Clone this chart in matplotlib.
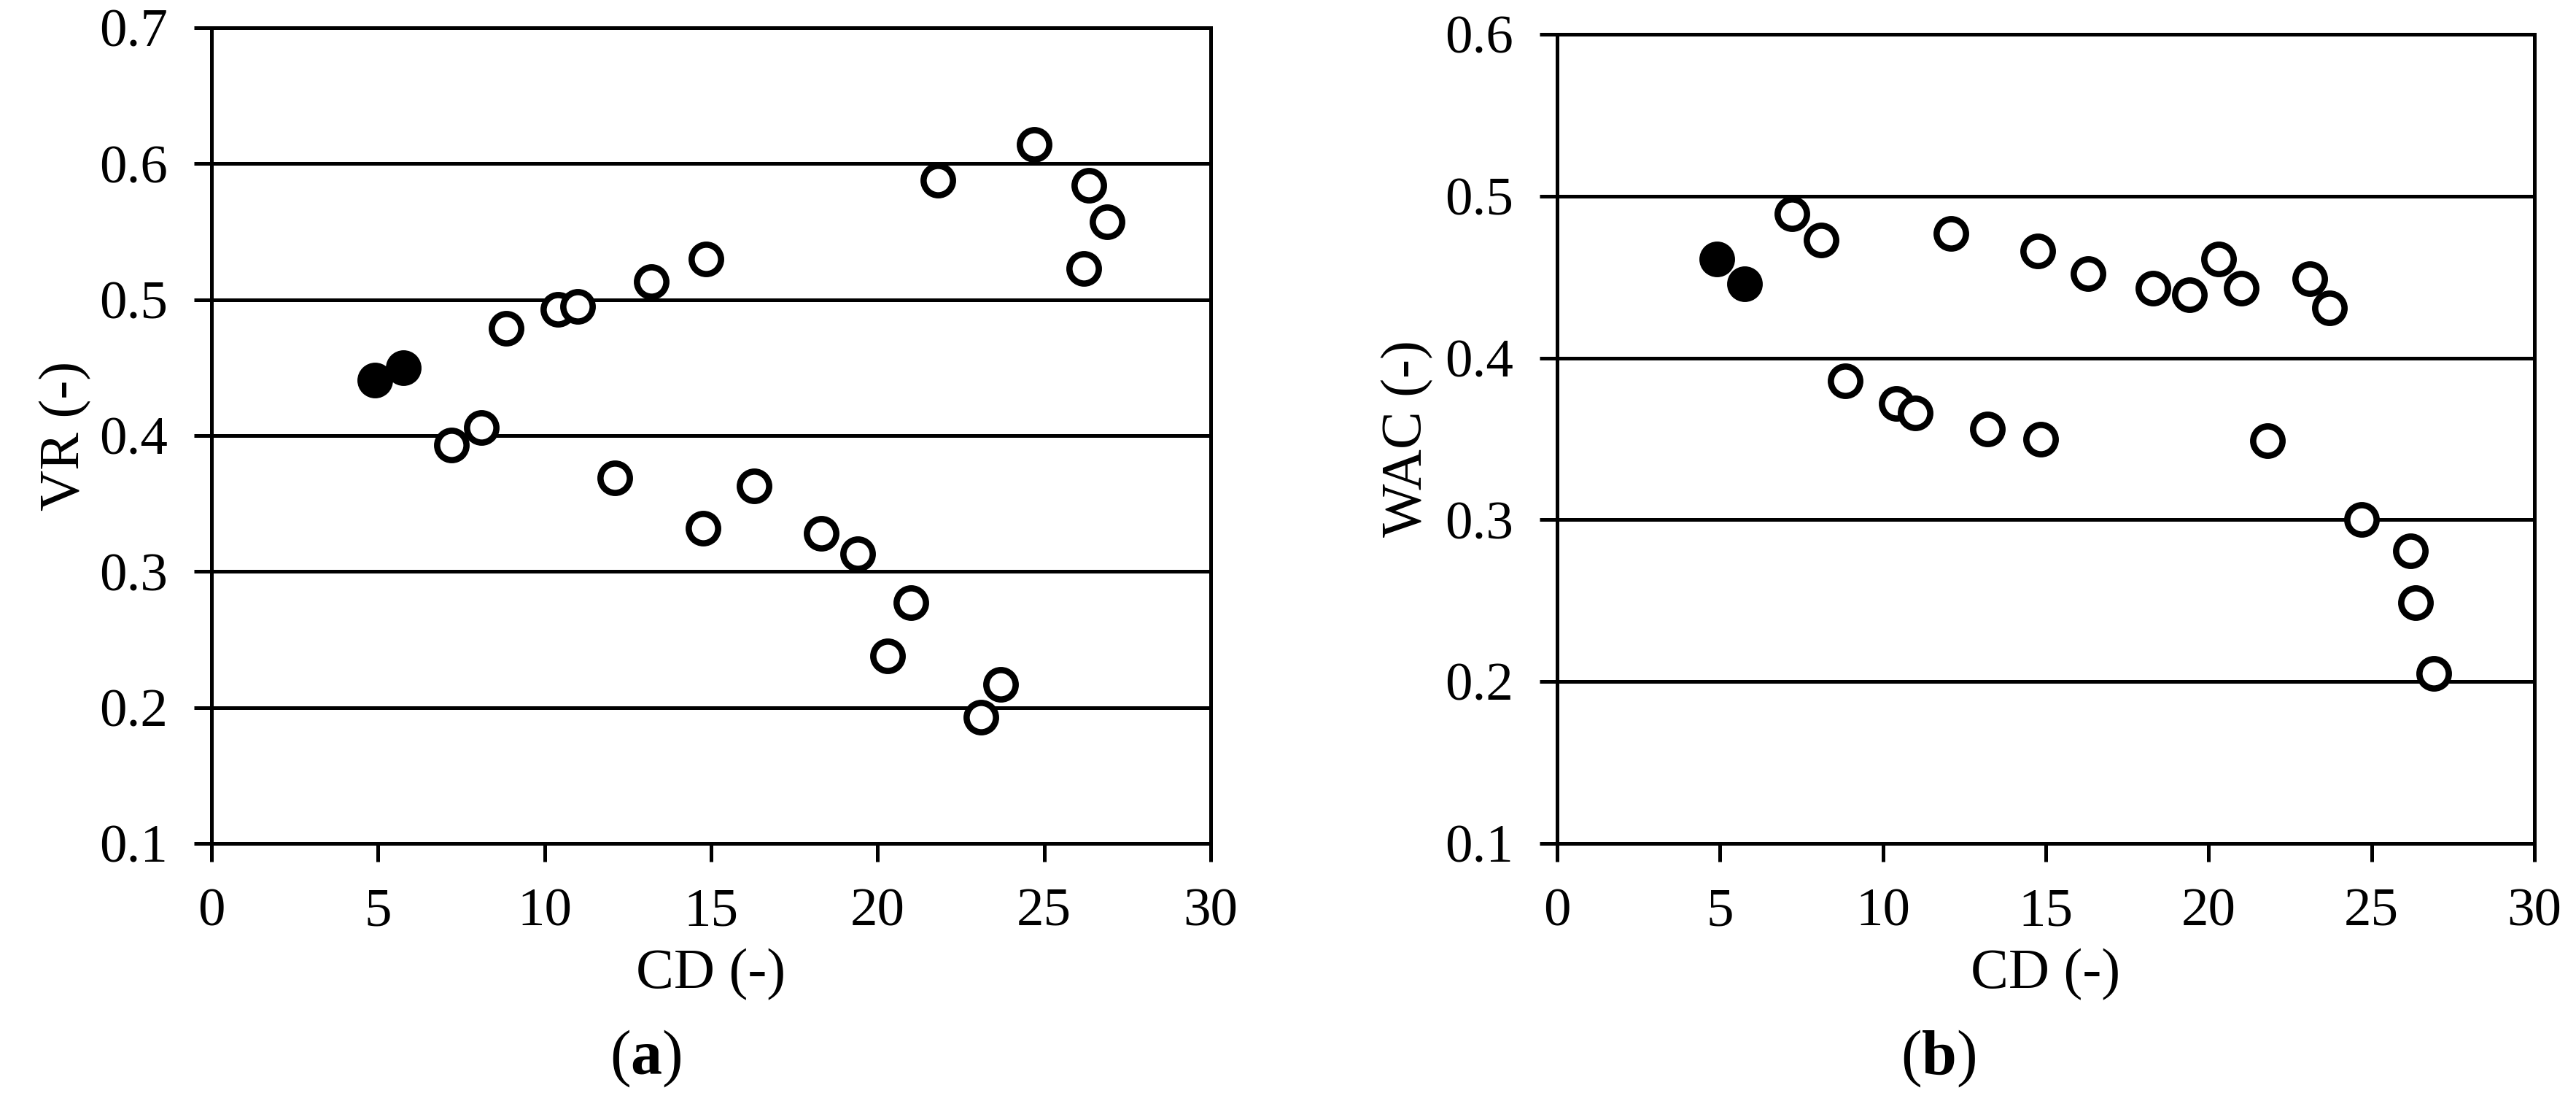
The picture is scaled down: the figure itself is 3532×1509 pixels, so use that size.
import matplotlib
matplotlib.use("Agg")
import matplotlib.pyplot as plt
from matplotlib.ticker import MultipleLocator

plt.rcParams['font.family'] = ['Liberation Serif', 'DejaVu Serif']
plt.rcParams['mathtext.fontset'] = 'custom'
plt.rcParams['mathtext.rm'] = 'Liberation Serif'
plt.rcParams['mathtext.bf'] = 'Liberation Serif:bold'

# ---- data ----
cd_open = [7.2, 8.1, 8.85, 10.4, 11.0, 12.1, 13.2, 14.85, 14.75, 16.3, 18.3,
           19.4, 20.3, 21.0, 21.8, 23.1, 23.7, 24.7, 26.2, 26.35, 26.9]
vr_open = [0.393, 0.406, 0.479, 0.493, 0.495, 0.369, 0.513, 0.530, 0.332, 0.363, 0.328,
           0.313, 0.238, 0.277, 0.588, 0.193, 0.217, 0.614, 0.523, 0.584, 0.557]
wac_open = [0.489, 0.473, 0.386, 0.372, 0.366, 0.477, 0.356, 0.350, 0.466, 0.452, 0.443,
            0.439, 0.461, 0.443, 0.349, 0.449, 0.431, 0.300, 0.281, 0.249, 0.205]
cd_filled = [4.9, 5.75]
vr_filled = [0.441, 0.450]
wac_filled = [0.461, 0.446]

x_label = "CD (-)"
y_labels = ["VR (-)", "WAC (-)"]
panel_tags = [r"($\mathbf{a}$)", r"($\mathbf{b}$)"]
y_limits = [(0.1, 0.7), (0.1, 0.6)]

W, H = 3532, 1509
fig = plt.figure(figsize=(W / 100, H / 100), dpi=100)

boxes = [(290, 1660, 38, 1156), (2135, 3475, 47, 1156)]
tag_x = [885, 2658]
ylab_x = [90, 1930]
FS = 54
LFS = 56
TFS = 62
LW = 3.6

for i, (l, r, t, b) in enumerate(boxes):
    ax = fig.add_axes([l / W, 1 - b / H, (r - l) / W, (b - t) / H])
    yv = vr_open if i == 0 else wac_open
    yf = vr_filled if i == 0 else wac_filled
    ax.set_xlim(0, 30)
    ax.set_ylim(*y_limits[i])
    ax.xaxis.set_major_locator(MultipleLocator(5))
    ax.yaxis.set_major_locator(MultipleLocator(0.1))
    ax.yaxis.set_major_formatter(plt.FuncFormatter(lambda v, p: f"{v:.1f}"))
    ax.grid(axis='y', color='black', lw=LW, zorder=1)
    ax.set_axisbelow(True)
    ax.plot(cd_open, yv, 'o', ms=29, mfc='white', mec='black', mew=6.2,
            ls='none', zorder=3, clip_on=False)
    ax.plot(cd_filled, yf, 'o', ms=29, mfc='black', mec='black', mew=6.2,
            ls='none', zorder=3, clip_on=False)
    for s in ax.spines.values():
        s.set_linewidth(LW)
        s.set_color('black')
    ax.tick_params(axis='y', direction='out', length=17, width=LW, pad=26,
                   labelsize=FS)
    ax.tick_params(axis='x', direction='out', length=18, width=LW, pad=26,
                   labelsize=FS)
    ax.set_xlabel(x_label, fontsize=LFS, va='center')
    ax.xaxis.set_label_coords(0.5, (b - 1336) / (b - t))
    ax.set_ylabel(y_labels[i], fontsize=LFS, va='center')
    ax.yaxis.set_label_coords((ylab_x[i] - l) / (r - l), 0.5)
    fig.text(tag_x[i] / W, 1 - 1451 / H, panel_tags[i], fontsize=TFS,
             ha='center', va='center')

fig.savefig("out.png", dpi=100, facecolor='white')
